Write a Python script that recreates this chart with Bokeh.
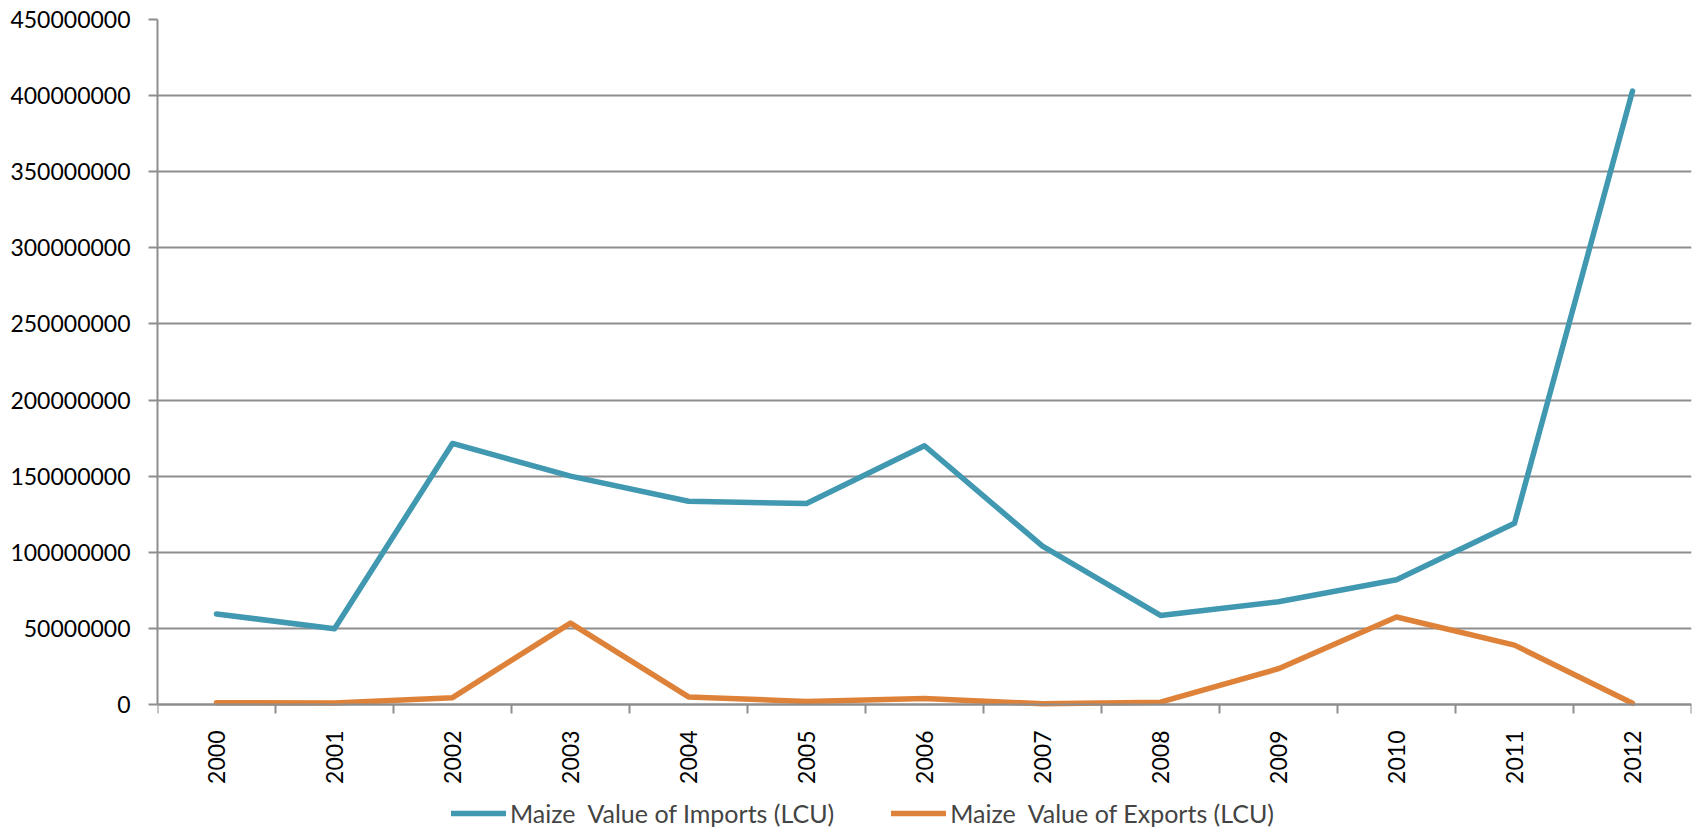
import math
from bokeh.plotting import figure
from bokeh.models import Range1d, FixedTicker, NumeralTickFormatter, Legend, LegendItem
from bokeh.embed import file_html
from bokeh.resources import INLINE

years = ["2000", "2001", "2002", "2003", "2004", "2005", "2006",
         "2007", "2008", "2009", "2010", "2011", "2012"]
imports_lcu = [59.5e6, 49.8e6, 171.5e6, 150e6, 133.5e6, 132e6, 170e6,
               104e6, 58.5e6, 67.5e6, 82e6, 119e6, 403e6]
exports_lcu = [1.2e6, 1.0e6, 4.5e6, 53.5e6, 5e6, 2e6, 4e6,
               0.5e6, 1.5e6, 23.5e6, 57.5e6, 39e6, 0.8e6]
y_ticks = [0, 50000000, 100000000, 150000000, 200000000, 250000000,
           300000000, 350000000, 400000000, 450000000]

BLUE = "#4198B1"
ORANGE = "#DE823A"
GRID = "#8E8E8E"
FONT = "Lato"

# layout: data area 685 px tall, plus 128 px below zero for axis labels and legend
Y_MAX = 450000000
DATA_PX = 685
BELOW_PX = 128
y_min = -Y_MAX * BELOW_PX / DATA_PX

n = len(years)
xs = [i + 0.5 for i in range(n)]

p = figure(frame_width=1534, frame_height=DATA_PX + BELOW_PX, output_backend="svg",
           toolbar_location=None,
           x_range=Range1d(0, n), y_range=Range1d(y_min, Y_MAX),
           min_border_left=157, min_border_right=1, min_border_top=19,
           min_border_bottom=0)
p.outline_line_color = None
p.background_fill_color = "white"
p.border_fill_color = "white"

r1 = p.line(xs, imports_lcu, line_color=BLUE, line_width=5.5, line_cap="round", line_join="round")
r2 = p.line(xs, exports_lcu, line_color=ORANGE, line_width=5.5, line_cap="round", line_join="round")

# x axis (sits at y = 0)
p.xaxis.fixed_location = 0
p.xaxis.ticker = FixedTicker(ticks=xs, minor_ticks=list(range(n + 1)))
p.xaxis.major_label_overrides = {x: y for x, y in zip(xs, years)}
p.xaxis.major_label_orientation = math.pi / 2
p.xaxis.major_tick_out = 0
p.xaxis.major_tick_in = 0
p.xaxis.minor_tick_out = 9
p.xaxis.minor_tick_in = 0
p.xaxis.minor_tick_line_color = GRID
p.xaxis.minor_tick_line_width = 2
p.xaxis.axis_line_color = GRID
p.xaxis.axis_line_width = 2
p.xaxis.major_label_standoff = 17
p.xaxis.major_label_text_font = FONT
p.xaxis.major_label_text_font_size = "23px"
p.xaxis.major_label_text_color = "black"

# y axis
p.yaxis.bounds = (0, Y_MAX)
p.yaxis.ticker = FixedTicker(ticks=y_ticks)
p.yaxis.formatter = NumeralTickFormatter(format="0")
p.yaxis.major_tick_out = 9
p.yaxis.major_tick_in = 0
p.yaxis.minor_tick_out = 0
p.yaxis.minor_tick_in = 0
p.yaxis.major_tick_line_color = GRID
p.yaxis.major_tick_line_width = 2
p.yaxis.axis_line_color = GRID
p.yaxis.axis_line_width = 2
p.yaxis.major_label_standoff = 18
p.yaxis.major_label_text_font = FONT
p.yaxis.major_label_text_font_size = "23px"
p.yaxis.major_label_text_color = "black"

p.xgrid.visible = False
p.ygrid.grid_line_color = GRID
p.ygrid.grid_line_width = 2

legend = Legend(items=[LegendItem(label="Maize  Value of Imports (LCU)", renderers=[r1]),
                       LegendItem(label="Maize  Value of Exports (LCU)", renderers=[r2])],
                orientation="horizontal", location=(294, 4),
                border_line_color=None, background_fill_alpha=0,
                label_text_font=FONT, label_text_font_size="25px",
                glyph_width=55, glyph_height=20, label_standoff=4, spacing=57,
                padding=2, margin=0)
p.add_layout(legend, "center")

open("out.html", "w").write(file_html(p, INLINE))
